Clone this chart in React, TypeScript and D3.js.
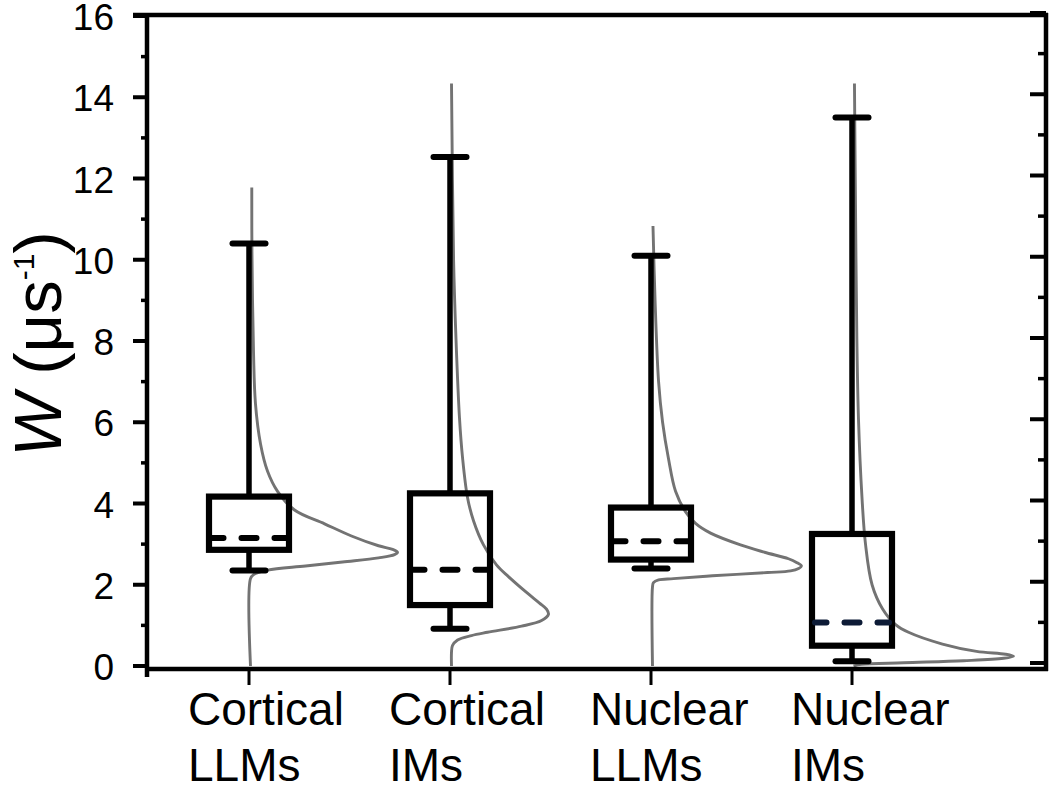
import React from "react";
import * as d3 from "d3";

// ---- data ----
const categories = ["Cortical LLMs", "Cortical IMs", "Nuclear LLMs", "Nuclear IMs"];
const labelLine1 = ["Cortical", "Cortical", "Nuclear", "Nuclear"];
const labelLine2 = ["LLMs", "IMs", "LLMs", "IMs"];
const whiskerLow = [2.35, 0.92, 2.4, 0.12];
const boxLow = [2.86, 1.5, 2.62, 0.5];
const meanValue = [3.15, 2.37, 3.07, 1.07];
const boxHigh = [4.17, 4.25, 3.9, 3.25];
const whiskerHigh = [10.4, 12.53, 10.1, 13.5];
const meanColors = ["#000", "#000", "#000", "#0d1b36"];

const yTicks = [0, 2, 4, 6, 8, 10, 12, 14, 16];
const yMinorTicks = [1, 3, 5, 7, 9, 11, 13, 15];

// distributions: [W, relative density]
const densityCorticalLLMs: [number, number][] = [
  [0, 0], [2.15, 0], [2.25, 0.019], [2.36, 0.106], [2.46, 0.344], [2.56, 0.575], [2.66, 0.8],
  [2.74, 0.9], [2.8, 0.919], [2.87, 0.888], [2.96, 0.8], [3.2, 0.631], [3.5, 0.463], [3.84, 0.275],
  [4.3, 0.169], [4.8, 0.106], [5.46, 0.063], [6.46, 0.031], [7.7, 0.019], [10.2, 0.009], [11.78, 0.008],
];
const densityCorticalIMs: [number, number][] = [
  [0, 0], [0.34, 0], [0.5, 0.006], [0.64, 0.038], [0.75, 0.125], [0.83, 0.225], [0.98, 0.438],
  [1.12, 0.563], [1.27, 0.606], [1.4, 0.594], [1.55, 0.55], [1.81, 0.469], [2.2, 0.356], [2.49, 0.281],
  [2.98, 0.2], [3.57, 0.138], [4.15, 0.1], [5.13, 0.069], [6.1, 0.05], [8.06, 0.028], [10, 0.013], [14.34, 0],
];
const densityNuclearLLMs: [number, number][] = [
  [0, 0], [1.95, 0], [2.05, 0.006], [2.12, 0.038], [2.15, 0.131], [2.22, 0.375], [2.3, 0.719],
  [2.34, 0.863], [2.4, 0.913], [2.46, 0.931], [2.55, 0.9], [2.64, 0.85], [2.8, 0.7], [2.98, 0.55],
  [3.27, 0.363], [3.51, 0.269], [3.8, 0.206], [4.3, 0.144], [5.1, 0.1], [6, 0.063], [7, 0.038],
  [9, 0.016], [10.83, 0.003],
];
const densityNuclearIMs: [number, number][] = [
  [0, 0], [0.04, 0.05], [0.08, 0.313], [0.13, 0.688], [0.19, 0.938], [0.24, 1], [0.29, 0.95],
  [0.36, 0.769], [0.54, 0.556], [0.83, 0.344], [1.02, 0.263], [1.41, 0.181], [2.0, 0.116],
  [3.0, 0.075], [4.15, 0.053], [6.1, 0.031], [8.05, 0.021], [12, 0.011], [14.34, 0.006],
];
const densities = [densityCorticalLLMs, densityCorticalIMs, densityNuclearLLMs, densityNuclearIMs];

const FONT = "'Liberation Sans', Arial, Helvetica, sans-serif";

export default function App() {
  const left = 147;
  const right = 1046;
  const top = 15;
  const bottomAxisY = 669;

  const y = d3.scaleLinear().domain([0, 16]).range([666, 16]);
  const x = d3.scalePoint<string>().domain(categories).range([249, 852]);
  const dens = d3.scaleLinear().domain([0, 1]).range([0, 160]);
  const boxHalf = 40;
  const capHalf = 16.5;

  const lineGen = (cx: number) =>
    d3
      .line<[number, number]>()
      .x((d) => cx + 1.5 + dens(d[1]))
      .y((d) => y(d[0]))
      .curve(d3.curveCatmullRom.alpha(0.5));

  return (
    <svg
      width={1050}
      height={790}
      style={{ position: "absolute", left: 0, top: 0, background: "#fff" }}
      fontFamily={FONT}
    >
      <rect x={0} y={0} width={1050} height={790} fill="#fff" />

      {/* density curves */}
      {densities.map((d, i) => (
        <path
          key={"dens" + i}
          d={lineGen(x(categories[i])!)(d) || ""}
          fill="none"
          stroke="#737373"
          strokeWidth={2.9}
        />
      ))}

      {/* box plots */}
      {categories.map((c, i) => {
        const cx = x(c)!;
        const xl = cx - boxHalf;
        const xr = cx + boxHalf;
        const inL = xl + 3;
        const inR = xr - 3;
        const dashLen = 15;
        const period = 33;
        const offset = -(((cx - dashLen / 2 - inL) % period) + period) % period;
        return (
          <g key={"box" + i}>
            <line x1={cx} x2={cx} y1={y(whiskerHigh[i])} y2={y(boxHigh[i])} stroke="#000" strokeWidth={5.5} />
            <line x1={cx} x2={cx} y1={y(boxLow[i])} y2={y(whiskerLow[i])} stroke="#000" strokeWidth={5.5} />
            <line
              x1={cx - capHalf}
              x2={cx + capHalf}
              y1={y(whiskerHigh[i])}
              y2={y(whiskerHigh[i])}
              stroke="#000"
              strokeWidth={6}
              strokeLinecap="round"
            />
            <line
              x1={cx - capHalf}
              x2={cx + capHalf}
              y1={y(whiskerLow[i])}
              y2={y(whiskerLow[i])}
              stroke="#000"
              strokeWidth={6}
              strokeLinecap="round"
            />
            <rect
              x={xl}
              y={y(boxHigh[i])}
              width={xr - xl}
              height={y(boxLow[i]) - y(boxHigh[i])}
              fill="none"
              stroke="#000"
              strokeWidth={6.2}
            />
            <line
              x1={inL}
              x2={inR}
              y1={y(meanValue[i])}
              y2={y(meanValue[i])}
              stroke={meanColors[i]}
              strokeWidth={6}
              strokeLinecap="round"
              strokeDasharray={`${dashLen} ${period - dashLen}`}
              strokeDashoffset={offset}
            />
          </g>
        );
      })}

      {/* frame */}
      <line x1={left} x2={left} y1={top - 2} y2={677} stroke="#000" strokeWidth={4.5} />
      <line x1={133} x2={right + 2} y1={top} y2={top} stroke="#000" strokeWidth={4.5} />
      <line x1={right} x2={right} y1={top - 2} y2={bottomAxisY + 2} stroke="#000" strokeWidth={4.5} />
      <line x1={left} x2={right + 2} y1={bottomAxisY} y2={bottomAxisY} stroke="#000" strokeWidth={4.5} />

      {/* y ticks left */}
      {yTicks.map((t) => (
        <g key={"yt" + t}>
          <line x1={133} x2={left} y1={y(t)} y2={y(t)} stroke="#000" strokeWidth={4} />
          <text x={114} y={y(t) + 14} fontSize={37} textAnchor="end" fill="#000">
            {t}
          </text>
        </g>
      ))}
      {yMinorTicks.map((t) => (
        <line key={"ym" + t} x1={141} x2={left} y1={y(t)} y2={y(t)} stroke="#000" strokeWidth={3.5} />
      ))}
      {/* y ticks right (inward) */}
      {yTicks.map((t) => (
        <line key={"yr" + t} x1={right - 16} x2={right} y1={y(t) - 3} y2={y(t) - 3} stroke="#000" strokeWidth={4} />
      ))}
      {yMinorTicks.map((t) => (
        <line key={"yrm" + t} x1={right - 8} x2={right} y1={y(t) - 3} y2={y(t) - 3} stroke="#000" strokeWidth={3.5} />
      ))}

      {/* x ticks and labels */}
      {categories.map((c, i) => {
        const cx = x(c)!;
        return (
          <g key={"xt" + i}>
            <line x1={cx} x2={cx} y1={bottomAxisY} y2={685} stroke="#000" strokeWidth={3} />
            <text x={cx - 61} y={725} fontSize={46} fill="#000">
              {labelLine1[i]}
            </text>
            <text x={cx - 61} y={781} fontSize={46} fill="#000">
              {labelLine2[i]}
            </text>
          </g>
        );
      })}

      {/* y axis title */}
      <text transform="translate(61,344) rotate(-90)" fontSize={67} textAnchor="middle" fill="#000">
        <tspan fontStyle="italic">W</tspan>
        <tspan> (μs</tspan>
        <tspan fontSize={30} dy={-27}>-1</tspan>
        <tspan dy={27}>)</tspan>
      </text>
    </svg>
  );
}
